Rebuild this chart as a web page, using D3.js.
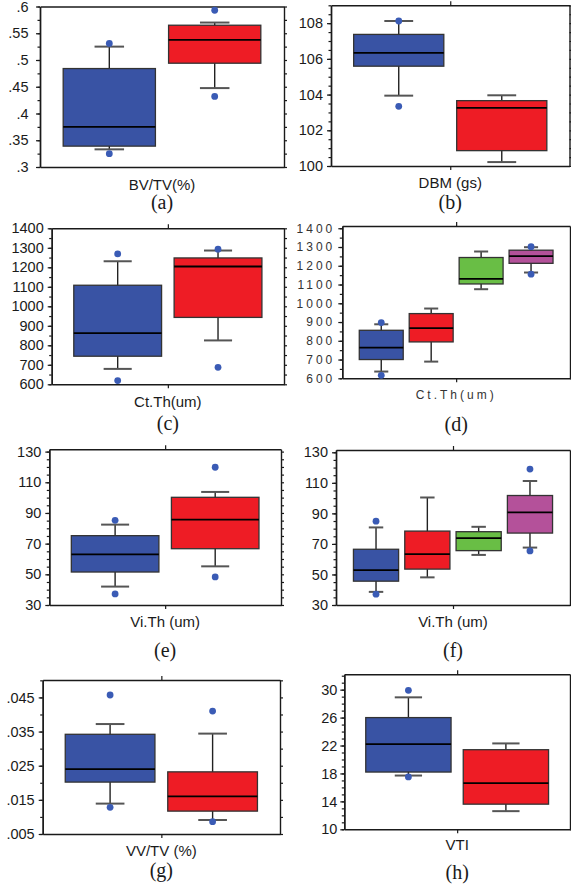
<!DOCTYPE html>
<html>
<head>
<meta charset="utf-8">
<script src="https://cdn.jsdelivr.net/npm/d3@7"></script>
<style>
  body { margin: 0; background: #fff; }
  svg { display: block; }
  .sans { font-family: 'Liberation Sans', Arial, Helvetica, sans-serif; }
  .narrow { font-family: 'Liberation Sans Narrow', 'Liberation Sans', Arial, sans-serif; }
  .serif { font-family: 'Liberation Serif', 'Times New Roman', serif; }
</style>
</head>
<body>
<svg id="fig" width="571" height="885"></svg>
<script>
// box stats per group: lo/hi = whisker ends, q1/med/q3, out = plotted outliers
const groupColors = ['#3953a4', '#ee1c25', '#69be45', '#b4519a'];

const bvtvBoxes = [
    { lo: .333, q1: .339, med: .375, q3: .484, hi: .525, out: [.531, .325] },
    { lo: .4475, q1: .494, med: .5375, q3: .565, hi: .57, out: [.593, .432] }
];
const dbmBoxes = [
    { lo: 103.94, q1: 105.59, med: 106.34, q3: 107.37, hi: 108.12, out: [108.12, 103.34] },
    { lo: 100.22, q1: 100.86, med: 103.25, q3: 103.66, hi: 103.96, out: [] }
];
const ctthBoxes = [
    { lo: 679, q1: 744, med: 862, q3: 1108, hi: 1231, out: [1269, 619] },
    { lo: 825, q1: 943, med: 1204, q3: 1248, hi: 1286, out: [1293, 687] }
];
const ctth4Boxes = [
    { lo: 636, q1: 700, med: 764, q3: 856, hi: 888, out: [897, 616] },
    { lo: 689, q1: 794, med: 867, q3: 945, hi: 972, out: [] },
    { lo: 1075, q1: 1103, med: 1130, q3: 1244, hi: 1276, out: [] },
    { lo: 1164, q1: 1213, med: 1251, q3: 1283, hi: 1299, out: [1302, 1155] }
];
const vithBoxes = [
    { lo: 42, q1: 51.5, med: 63, q3: 75.2, hi: 82.4, out: [85.2, 37.2] },
    { lo: 55.2, q1: 66.7, med: 85.7, q3: 100.2, hi: 103.7, out: [119.8, 48.3] }
];
const vith4Boxes = [
    { lo: 38.6, q1: 45.6, med: 52.9, q3: 66.5, hi: 80.8, out: [84.9, 37.1] },
    { lo: 48.1, q1: 53.5, med: 63.3, q3: 78.4, hi: 100.4, out: [] },
    { lo: 62.8, q1: 65.6, med: 73.8, q3: 78, hi: 81.2, out: [] },
    { lo: 67.6, q1: 77.1, med: 90.7, q3: 101.7, hi: 111.2, out: [119, 65.4] }
];
const vvtvBoxes = [
    { lo: .0139, q1: .0202, med: .024, q3: .0342, hi: .0372, out: [.0457, .0128] },
    { lo: .0091, q1: .0117, med: .016, q3: .0232, hi: .0344, out: [.041, .0086] }
];
const vtiBoxes = [
    { lo: 17.7, q1: 18.2, med: 22.2, q3: 26, hi: 28.9, out: [29.9, 17.5] },
    { lo: 12.6, q1: 13.6, med: 16.6, q3: 21.4, hi: 22.3, out: [] }
];

// tick labels as printed
const bvtvTicks = ['.3', '.35', '.4', '.45', '.5', '.55', '.6'];
const dbmTicks = ['100', '102', '104', '106', '108'];
const ctthTicks = ['600', '700', '800', '900', '1000', '1100', '1200', '1300', '1400'];
const vithTicks = ['30', '50', '70', '90', '110', '130'];
const vvtvTicks = ['.005', '.015', '.025', '.035', '.045'];
const vtiTicks = ['10', '14', '18', '22', '26', '30'];

const panels = [
    { boxes: bvtvBoxes, ticks: bvtvTicks, title: 'BV/TV(%)', cap: '(a)', domain: [.3, .6], minor: .025,
      x0: 40, x1: 284, top: 6.5, bottom: 167, titleY: 184, capY: 202, pad: 7.5, midTick: false },
    { boxes: dbmBoxes, ticks: dbmTicks, title: 'DBM (gs)', cap: '(b)', domain: [100, 109], minor: .5,
      x0: 331, x1: 569.5, top: 5.3, bottom: 166, titleY: 182, capY: 202, pad: 4 },
    { boxes: ctthBoxes, ticks: ctthTicks, title: 'Ct.Th(um)', cap: '(c)', domain: [600, 1400], minor: 50,
      x0: 51.7, x1: 284, top: 228.3, bottom: 384.3, titleY: 401.5, capY: 423, pad: 4 },
    { boxes: ctth4Boxes, ticks: ctthTicks, title: 'Ct.Th(um)', cap: '(d)', domain: [600, 1412], minor: 50,
      x0: 342.3, x1: 570, top: 226, bottom: 378.3, titleY: 395, capY: 424, pad: 3, narrow: true },
    { boxes: vithBoxes, ticks: vithTicks, title: 'Vi.Th (um)', cap: '(e)', domain: [30, 131.5], minor: 5,
      x0: 49.3, x1: 281, top: 449.3, bottom: 605, titleY: 621.5, capY: 650, pad: 4 },
    { boxes: vith4Boxes, ticks: vithTicks, title: 'Vi.Th (um)', cap: '(f)', domain: [30, 131.5], minor: 5,
      x0: 336, x1: 570, top: 450, bottom: 605, titleY: 621.5, capY: 650, pad: 4 },
    { boxes: vvtvBoxes, ticks: vvtvTicks, title: 'VV/TV (%)', cap: '(g)', domain: [.005, .0501], minor: .005,
      x0: 42.7, x1: 280, top: 680, bottom: 834, titleY: 850, capY: 870, pad: 4 },
    { boxes: vtiBoxes, ticks: vtiTicks, title: 'VTI', cap: '(h)', domain: [10, 32.2], minor: 1,
      x0: 344.3, x1: 570, top: 674.3, bottom: 829.3, titleY: 844, capY: 872, pad: 3 }
];

const svg = d3.select('#fig');
svg.append('rect').attr('width', 571).attr('height', 885).attr('fill', '#fff');

const styleAxis = (sel) => {
    sel.attr('font-family', null).attr('font-size', null);
    sel.selectAll('path').attr('stroke', '#1a1a1a').attr('stroke-width', 1.4);
    sel.selectAll('line').attr('stroke', '#1a1a1a').attr('stroke-width', 1.2);
};

const drawPanel = (p) => {
    const g = svg.append('g');
    const n = p.boxes.length;
    const y = d3.scaleLinear().domain(p.domain).range([p.bottom, p.top]);
    const x = d3.scaleBand()
        .domain(d3.range(n))
        .range([p.x0, p.x1])
        .paddingInner(n > 2 ? .12 : .125)
        .paddingOuter(n > 2 ? .34 : .22);
    const bw = x.bandwidth();
    const capW = bw * .32;

    const tickVals = p.ticks.map(Number);
    const nMinor = Math.floor((p.domain[1] - p.domain[0]) / p.minor + 1e-6);
    const minorVals = d3.range(nMinor + 1).map(i => p.domain[0] + i * p.minor);

    // left axis: minor ticks then labelled ticks
    g.append('g')
        .attr('transform', `translate(${p.x0},0)`)
        .call(d3.axisLeft(y).tickValues(minorVals).tickSize(2.5).tickSizeOuter(0).tickFormat(''))
        .call(styleAxis);
    const left = g.append('g')
        .attr('transform', `translate(${p.x0},0)`)
        .call(d3.axisLeft(y).tickValues(tickVals).tickSize(4).tickSizeOuter(0)
            .tickPadding(p.pad).tickFormat((d, i) => p.ticks[i]))
        .call(styleAxis);
    left.selectAll('text')
        .attr('class', p.narrow ? 'narrow' : 'sans')
        .attr('fill', p.narrow ? '#333' : '#1a1a1a')
        .style('font-size', p.narrow ? '12px' : '14.5px')
        .style('letter-spacing', p.narrow ? '3px' : '0px');

    // right axis: all ticks outward, no labels
    g.append('g')
        .attr('transform', `translate(${p.x1},0)`)
        .call(d3.axisRight(y).tickValues(minorVals).tickSize(3).tickSizeOuter(0).tickFormat(''))
        .call(styleAxis);

    // top and bottom frame lines with the centre category tick
    const xc = d3.scaleLinear().domain([0, 1]).range([p.x0, p.x1]);
    const mid = p.midTick === false ? [] : [.5];
    g.append('g')
        .attr('transform', `translate(0,${p.bottom})`)
        .call(d3.axisBottom(xc).tickValues(mid).tickSize(4).tickSizeOuter(0).tickFormat(''))
        .call(styleAxis);
    g.append('g')
        .attr('transform', `translate(0,${p.top})`)
        .call(d3.axisTop(xc).tickValues(mid).tickSize(4).tickSizeOuter(0).tickFormat(''))
        .call(styleAxis);

    const boxes = g.selectAll('g.box')
        .data(p.boxes)
        .join('g')
        .attr('class', 'box');
    const cx = (d, i) => x(i) + bw / 2;

    // whiskers
    boxes.append('line')
        .attr('x1', cx).attr('x2', cx)
        .attr('y1', d => y(d.hi)).attr('y2', d => y(d.lo))
        .attr('stroke', '#222').attr('stroke-width', 1.4);
    boxes.append('line')
        .attr('x1', (d, i) => cx(d, i) - capW / 2).attr('x2', (d, i) => cx(d, i) + capW / 2)
        .attr('y1', d => y(d.hi)).attr('y2', d => y(d.hi))
        .attr('stroke', '#555').attr('stroke-width', 2);
    boxes.append('line')
        .attr('x1', (d, i) => cx(d, i) - capW / 2).attr('x2', (d, i) => cx(d, i) + capW / 2)
        .attr('y1', d => y(d.lo)).attr('y2', d => y(d.lo))
        .attr('stroke', '#555').attr('stroke-width', 2);

    // box + median
    boxes.append('rect')
        .attr('x', (d, i) => x(i))
        .attr('width', bw)
        .attr('y', d => y(d.q3))
        .attr('height', d => y(d.q1) - y(d.q3))
        .attr('fill', (d, i) => groupColors[i])
        .attr('stroke', '#333')
        .attr('stroke-width', 1.3);
    boxes.append('line')
        .attr('x1', (d, i) => x(i)).attr('x2', (d, i) => x(i) + bw)
        .attr('y1', d => y(d.med)).attr('y2', d => y(d.med))
        .attr('stroke', '#000').attr('stroke-width', 1.8);

    // outliers
    boxes.selectAll('circle')
        .data((d, i) => d.out.map(v => ({ v, i })))
        .join('circle')
        .attr('cx', d => x(d.i) + bw / 2)
        .attr('cy', d => y(d.v))
        .attr('r', 3.4)
        .attr('fill', '#3a5bb5');

    const cxPlot = (p.x0 + p.x1) / 2;
    g.append('text')
        .attr('class', p.narrow ? 'narrow' : 'sans')
        .attr('x', cxPlot)
        .attr('y', p.titleY)
        .attr('text-anchor', 'middle')
        .attr('dominant-baseline', 'central')
        .style('font-size', p.narrow ? '12px' : '15px')
        .style('letter-spacing', p.narrow ? '3px' : '0px')
        .attr('fill', p.narrow ? '#333' : '#1a1a1a')
        .text(p.title);
    g.append('text')
        .attr('class', 'serif')
        .attr('x', cxPlot)
        .attr('y', p.capY)
        .attr('text-anchor', 'middle')
        .attr('dominant-baseline', 'central')
        .style('font-size', '20px')
        .attr('fill', '#1a1a1a')
        .text(p.cap);
};

panels.forEach(drawPanel);
</script>
</body>
</html>
